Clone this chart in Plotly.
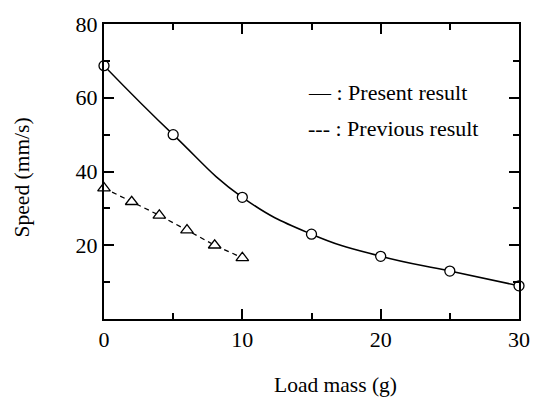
import plotly.graph_objects as go

# Data
present_x = [0, 5, 10, 15, 20, 25, 30]
present_y = [68.7, 50.0, 33.0, 23.0, 17.0, 13.0, 9.0]
previous_x = [0, 2, 4, 6, 8, 10]
previous_y = [35.5, 31.8, 28.1, 24.1, 20.0, 16.6]

x_ticks = [0, 10, 20, 30]
y_ticks = [20, 40, 60, 80]

FONT = "Liberation Serif, Times New Roman, serif"

fig = go.Figure()

# Present result: smooth curve with open circles
fig.add_trace(go.Scatter(
    x=present_x, y=present_y, mode="lines",
    line=dict(color="black", width=1.5, shape="spline", smoothing=1.3),
    hoverinfo="skip", showlegend=False, cliponaxis=False))
fig.add_trace(go.Scatter(
    x=present_x, y=present_y, mode="markers",
    marker=dict(symbol="circle", size=10, color="white",
                line=dict(color="black", width=1.3)),
    showlegend=False, cliponaxis=False))

# Previous result: dashed line with open triangles
fig.add_trace(go.Scatter(
    x=previous_x, y=previous_y, mode="lines",
    line=dict(color="black", width=1.3, dash="5px,4px"),
    hoverinfo="skip", showlegend=False, cliponaxis=False))
fig.add_trace(go.Scatter(
    x=previous_x, y=previous_y, mode="markers",
    marker=dict(symbol="triangle-up", size=11, color="white",
                line=dict(color="black", width=1.3)),
    showlegend=False, cliponaxis=False))

axis_common = dict(
    showgrid=False, zeroline=False, showline=True, linecolor="black",
    linewidth=2, ticks="inside", ticklen=10, tickwidth=1.5, tickcolor="black",
    mirror="ticks", tickfont=dict(family=FONT, size=22, color="black"),
)

fig.update_xaxes(range=[0, 30], tickmode="array", tickvals=x_ticks,
                 ticktext=[str(v) for v in x_ticks],
                 minor=dict(tickmode="linear", tick0=0, dtick=5, ticks="inside",
                            ticklen=6, tickwidth=1.5, tickcolor="black"),
                 **axis_common)
fig.update_yaxes(range=[0, 80], tickmode="array", tickvals=y_ticks,
                 ticktext=[str(v) for v in y_ticks],
                 minor=dict(tickmode="linear", tick0=0, dtick=10, ticks="inside",
                            ticklen=6, tickwidth=1.5, tickcolor="black"),
                 **axis_common)

# Axis titles
fig.add_annotation(text="Load mass (g)", xref="x", yref="paper", x=16.75, y=0,
                   yshift=-66, yanchor="middle", xanchor="center", showarrow=False,
                   font=dict(family=FONT, size=21.5, color="black"))
fig.add_annotation(text="Speed (mm/s)", xref="paper", yref="paper", x=0, y=0.48,
                   xshift=-82, textangle=-90, xanchor="center", yanchor="middle",
                   showarrow=False, font=dict(family=FONT, size=21.5, color="black"))

# Legend as text
fig.add_annotation(text="— : Present result", xref="x", yref="y", x=14.6, y=61.3,
                   xanchor="left", yanchor="middle", showarrow=False,
                   font=dict(family=FONT, size=22, color="black"))
fig.add_annotation(text="--- : Previous result", xref="x", yref="y", x=14.6, y=51.6,
                   xanchor="left", yanchor="middle", showarrow=False,
                   font=dict(family=FONT, size=22, color="black"))

fig.update_layout(
    width=542, height=400,
    margin=dict(l=104, r=19, t=21, b=81),
    plot_bgcolor="white", paper_bgcolor="white",
    font=dict(family=FONT, color="black"),
)

fig.write_html("out.html")
